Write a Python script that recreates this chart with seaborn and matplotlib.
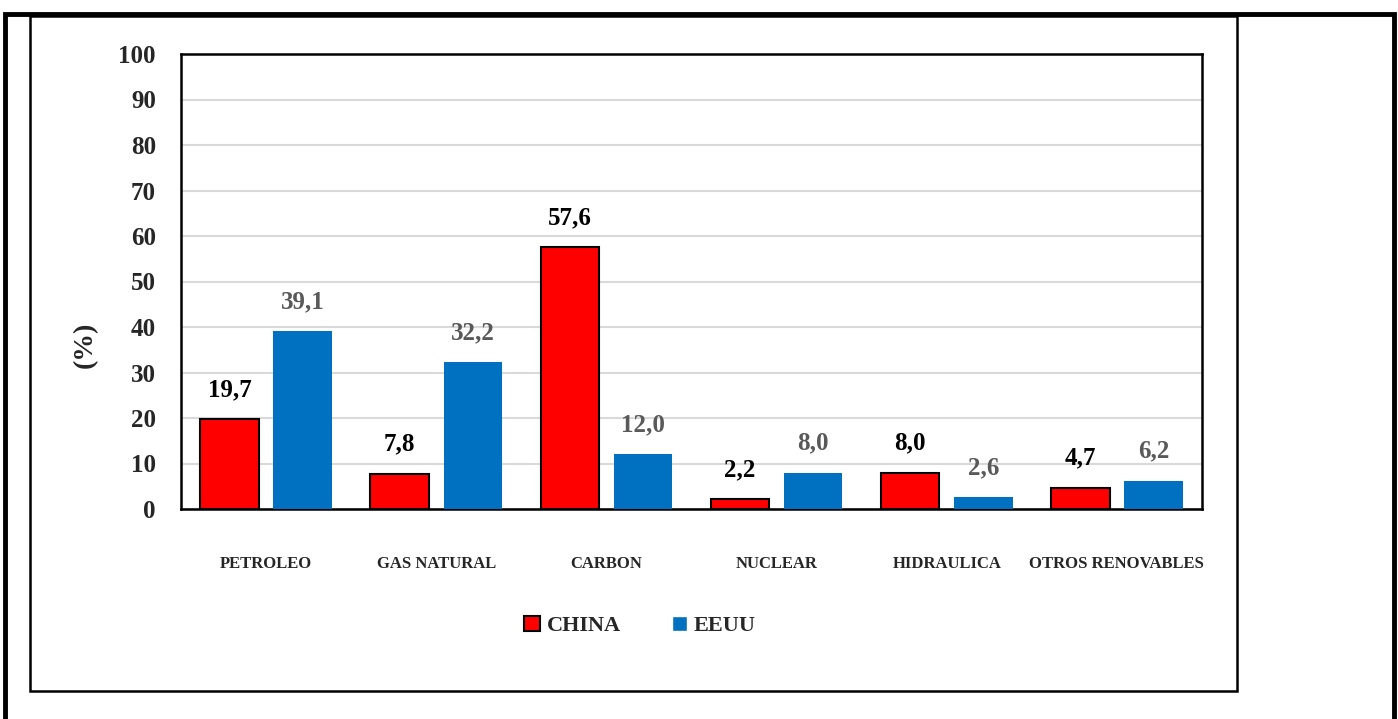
"""
Consumo de energia primaria: China vs EEUU
"""

import matplotlib
matplotlib.use("Agg")
import matplotlib.pyplot as plt
from matplotlib.patches import Rectangle
import pandas as pd
import seaborn as sns

# Data
fuentes = ["PETROLEO", "GAS NATURAL", "CARBON", "NUCLEAR", "HIDRAULICA", "OTROS RENOVABLES"]
china = [19.7, 7.8, 57.6, 2.2, 8.0, 4.7]
eeuu = [39.1, 32.2, 12.0, 8.0, 2.6, 6.2]
paises = ["CHINA", "EEUU"]
y_ticks = [0, 10, 20, 30, 40, 50, 60, 70, 80, 90, 100]

colores = {"CHINA": "#FF0000", "EEUU": "#0070C0"}
label_colors = {"CHINA": "#000000", "EEUU": "#595959"}

df = pd.DataFrame({
    "fuente": fuentes * 2,
    "pais": [paises[0]] * len(fuentes) + [paises[1]] * len(fuentes),
    "valor": china + eeuu,
})

sns.set_theme(style="white")
plt.rcParams["font.family"] = ["Liberation Serif", "DejaVu Serif"]
plt.rcParams["font.weight"] = "bold"

fig = plt.figure(figsize=(13.98, 7.19), dpi=100)
ax = fig.add_axes([181 / 1398, 1 - 509 / 719, (1202 - 181) / 1398, (509 - 54) / 719])

sns.barplot(data=df, x="fuente", y="valor", hue="pais", order=fuentes,
            hue_order=paises, palette=colores, width=0.86, gap=0.2,
            saturation=1, ax=ax, zorder=3)

# Edges and value labels
for container, pais in zip(ax.containers, paises):
    for bar in container:
        if pais == "CHINA":
            bar.set_edgecolor("black")
            bar.set_linewidth(1.5)
        else:
            bar.set_linewidth(0)
    ax.bar_label(container, labels=[f"{v:.1f}".replace(".", ",") for v in container.datavalues],
                 padding=13, fontsize=18, fontweight="bold", color=label_colors[pais])

ax.set_ylim(0, 100)
ax.set_yticks(y_ticks)
ax.set_yticklabels([str(t) for t in y_ticks], fontsize=18, fontweight="bold")
ax.tick_params(axis="y", length=0, pad=18)
ax.tick_params(axis="x", length=0, pad=34, labelsize=12)
for lbl in ax.get_xticklabels():
    lbl.set_fontweight("bold")
ax.yaxis.grid(True, color="#D9D9D9", linewidth=1.5, zorder=0)
ax.set_axisbelow(True)
for sp in ax.spines.values():
    sp.set_visible(True)
    sp.set_color("black")
    sp.set_linewidth(1.8)
ax.set_xlabel("")
ax.set_ylabel("")
fig.text(85 / 1398, 1 - 345 / 719, "(%)", rotation=90, fontsize=20, fontweight="bold",
         ha="center", va="center")

# Legend
handles, labels = ax.get_legend_handles_labels()
handles[0].set_edgecolor("black")
handles[0].set_linewidth(1.5)
ax.legend(handles, labels, loc="center", bbox_to_anchor=(640 / 1398, 1 - 626 / 719),
          bbox_transform=fig.transFigure, ncol=2, frameon=False,
          handlelength=0.7, handleheight=0.7, handletextpad=0.3, columnspacing=2.3,
          prop={"weight": "bold", "size": 16})

# Frames
W, H = 1398, 719
fig.patches.append(Rectangle((5 / W, -0.1), (1394 - 5) / W, 1.1 - 14 / H, transform=fig.transFigure,
                             fill=False, edgecolor="black", linewidth=3.5))
fig.patches.append(Rectangle((30 / W, 1 - 691 / H), (1237 - 30) / W, (691 - 16) / H,
                             transform=fig.transFigure, fill=False, edgecolor="black", linewidth=1.8))

fig.savefig("out.png", dpi=100)
